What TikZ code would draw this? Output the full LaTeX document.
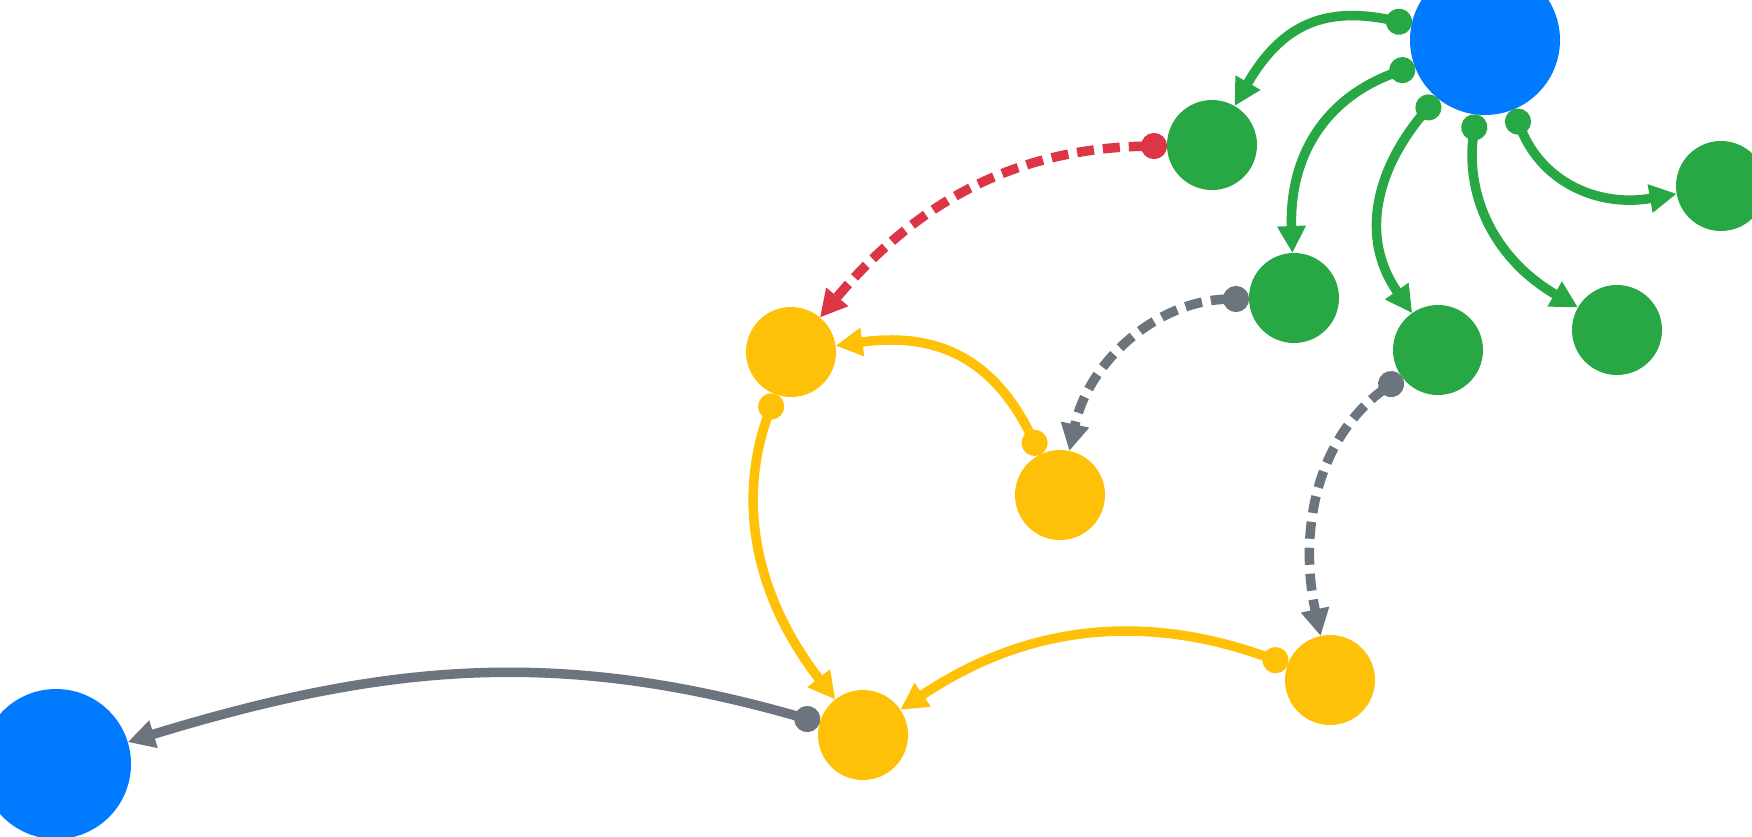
\documentclass[tikz,border=0pt]{standalone}
\usetikzlibrary{arrows.meta}
\definecolor{cblue}{HTML}{007BFF}
\definecolor{cgreen}{HTML}{28A745}
\definecolor{cyellow}{HTML}{FFC107}
\definecolor{cred}{HTML}{DC3545}
\definecolor{cgray}{HTML}{6C757D}
\tikzset{
  big/.style={circle, fill=cblue, draw=none, minimum size=150pt, inner sep=0pt, outer sep=0pt},
  small/.style={circle, draw=none, minimum size=90pt, inner sep=0pt, outer sep=0pt},
  gnode/.style={small, fill=cgreen},
  ynode/.style={small, fill=cyellow},
  link/.style={line width=9.5pt, {Circle[length=26pt]}-{Triangle[length=27pt,width=27pt]}},
  dlink/.style={link, line width=9.5pt, dash pattern=on 17pt off 9pt},
}
\begin{document}
\begin{tikzpicture}[x=1pt, y=-1pt]
\useasboundingbox (0,0) rectangle (1752,836);
\clip (0,0) rectangle (1752,836);
\fill[white] (0,0) rectangle (1752,836);
\node[big] (b1) at (1485,40) {};
\node[big] (b2) at (56,764) {};
\node[gnode] (g1) at (1212,145) {};
\node[gnode] (g2) at (1294,298) {};
\node[gnode] (g3) at (1438,350) {};
\node[gnode] (g4) at (1617,330) {};
\node[gnode] (g5) at (1721,186) {};
\node[ynode] (y1) at (791,352) {};
\node[ynode] (y2) at (1060,495) {};
\node[ynode] (y3) at (863,735) {};
\node[ynode] (y4) at (1330,680) {};
% green edges
\draw[link, cgreen] (b1) to[out=168, in=60, looseness=1.2] (g1);
\draw[link, cgreen] (b1) to[out=200, in=92, looseness=1.1] (g2);
\draw[link, cgreen] (b1) to[out=230, in=125, looseness=1.1] (g3);
\draw[link, cgreen] (b1) to[out=263, in=150, looseness=1.05] (g4);
\draw[link, cgreen] (b1) to[out=292, in=190, looseness=1.1] (g5);
% dashed
\draw[dlink, cred] (g1) to[out=181, in=50] (y1);
\draw[dlink, cgray] (g2) to[out=181, in=78] (y2);
\draw[dlink, cgray] (g3) to[out=216, in=102] (y4);
% yellow
\draw[link, cyellow] (y2) to[out=116, in=8, looseness=1.15] (y1);
\draw[link, cyellow] (y1) to[out=250, in=128] (y3);
\draw[link, cyellow] (y4) to[out=160, in=34] (y3);
% gray solid
\draw[link, cgray] (y3) to[out=164, in=17] (b2);
\end{tikzpicture}
\end{document}
